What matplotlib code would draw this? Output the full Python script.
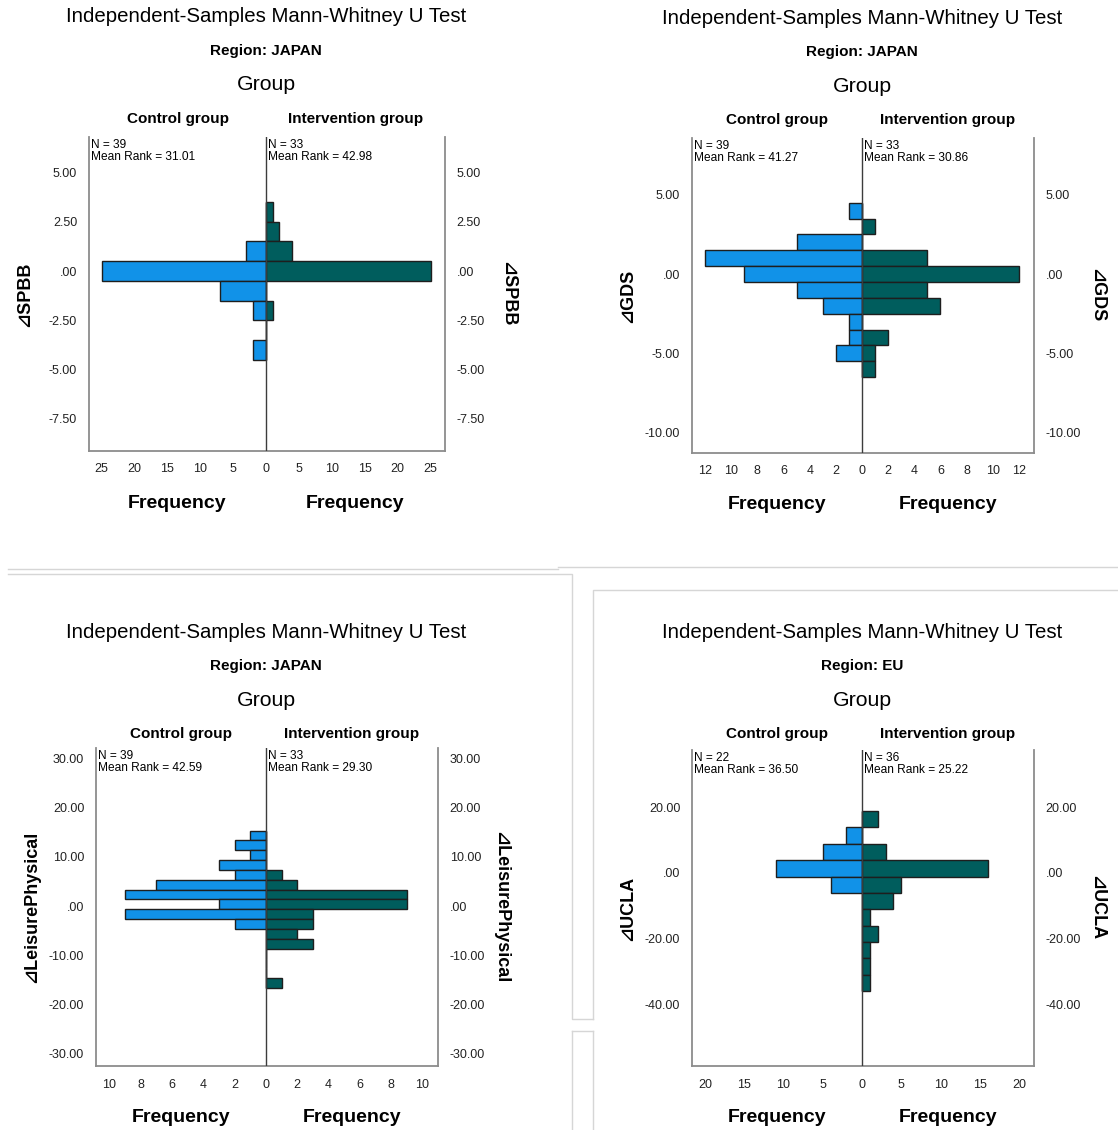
import matplotlib
matplotlib.use("Agg")
import matplotlib.pyplot as plt
from matplotlib.lines import Line2D
import numpy as np

plt.rcParams['font.family'] = ['Liberation Sans', 'DejaVu Sans', 'Noto Sans CJK JP']

# ---------------- data ----------------
title = "Independent-Samples Mann-Whitney U Test"
groups = ["Control group", "Intervention group"]

# Panel 1: ⊿SPBB, JAPAN
spbb_bins = [3, 2, 1, 0, -1, -2, -3, -4]
spbb_control = [0, 0, 3, 25, 7, 2, 0, 2]
spbb_interv = [1, 2, 4, 25, 0, 1, 0, 0]
spbb_n = [39, 33]
spbb_rank = [31.01, 42.98]
spbb_yticks = [5.0, 2.5, 0.0, -2.5, -5.0, -7.5]
spbb_xticks = [25, 20, 15, 10, 5, 0, 5, 10, 15, 20, 25]

# Panel 2: ⊿GDS, JAPAN
gds_bins = [4, 3, 2, 1, 0, -1, -2, -3, -4, -5, -6]
gds_control = [1, 0, 5, 12, 9, 5, 3, 1, 1, 2, 0]
gds_interv = [0, 1, 0, 5, 12, 5, 6, 0, 2, 1, 1]
gds_n = [39, 33]
gds_rank = [41.27, 30.86]
gds_yticks = [5.0, 0.0, -5.0, -10.0]
gds_xticks = [12, 10, 8, 6, 4, 2, 0, 2, 4, 6, 8, 10, 12]

# Panel 3: ⊿LeisurePhysical, JAPAN
lp_bins = [14.33, 12.33, 10.33, 8.33, 6.33, 4.33, 2.33, 0.33, -1.67, -3.67,
           -5.67, -7.67, -9.67, -11.67, -13.67, -15.67]
lp_control = [1, 2, 1, 3, 2, 7, 9, 3, 9, 2, 0, 0, 0, 0, 0, 0]
lp_interv = [0, 0, 0, 0, 1, 2, 9, 9, 3, 3, 2, 3, 0, 0, 0, 1]
lp_n = [39, 33]
lp_rank = [42.59, 29.30]
lp_yticks = [30.0, 20.0, 10.0, 0.0, -10.0, -20.0, -30.0]
lp_xticks = [10, 8, 6, 4, 2, 0, 2, 4, 6, 8, 10]

# Panel 4: ⊿UCLA, EU
ucla_bins = [16.4, 11.4, 6.4, 1.4, -3.6, -8.6, -13.6, -18.6, -23.6, -28.6, -33.6]
ucla_control = [0, 2, 5, 11, 4, 0, 0, 0, 0, 0, 0]
ucla_interv = [2, 0, 3, 16, 5, 4, 1, 2, 1, 1, 1]
ucla_n = [22, 36]
ucla_rank = [36.50, 25.22]
ucla_yticks = [20.0, 0.0, -20.0, -40.0]
ucla_xticks = [20, 15, 10, 5, 0, 5, 10, 15, 20]

# ---------------- layout / style ----------------
W, H = 1118, 1130
fig = plt.figure(figsize=(W / 100, H / 100), dpi=100)
fig.patch.set_facecolor("white")

BLUE = "#1192E8"
TEAL = "#005D5D"
EDGE = "#1e1e1e"
SPINE = "#8c8c8c"

def fx(x):
    return x / W

def fy(y):
    return 1 - y / H

def ftext(x, y, s, **kw):
    kw.setdefault("ha", "center")
    kw.setdefault("va", "center")
    fig.text(fx(x), fy(y), s, **kw)

def fmt(v):
    s = f"{v:.2f}"
    if s.startswith("0."):
        s = s[1:]
    if s.startswith("-0."):
        s = "-" + s[2:]
    return s

def panel(box, xlim, ylim, binw, bins, control, interv, n, rank, yticks, xticks,
          region, ylabel, yoff):
    L, T, R, B = box
    ax = fig.add_axes([fx(L), fy(B), fx(R) - fx(L), (B - T) / H])
    ax.barh(bins, [-c for c in control], height=binw, color=BLUE,
            edgecolor=EDGE, linewidth=1.0, zorder=2)
    ax.barh(bins, interv, height=binw, color=TEAL,
            edgecolor=EDGE, linewidth=1.0, zorder=2)
    ax.axvline(0, color="#3c3c3c", lw=1.0, zorder=3)
    ax.set_xlim(*xlim)
    ax.set_ylim(*ylim)
    ax.spines["top"].set_visible(False)
    for s in ("left", "right", "bottom"):
        ax.spines[s].set_color(SPINE)
        ax.spines[s].set_linewidth(1.3)
    ax.set_yticks(yticks)
    ax.set_yticklabels([fmt(v) for v in yticks])
    half = len(xticks) // 2
    xpos = [-v for v in xticks[:half]] + list(xticks[half:])
    ax.set_xticks(xpos)
    ax.set_xticklabels([str(v) for v in xticks])
    ax.tick_params(axis="y", which="both", left=False, right=False,
                   labelleft=True, labelright=True, labelsize=9,
                   pad=5, colors="#222222")
    ax.tick_params(axis="x", which="both", bottom=False, labelsize=9,
                   pad=5.5, colors="#222222")
    ax.set_facecolor("white")

    mid = ax.transData.transform((0, 0))[0] / fig.dpi * 100
    lc = (L + mid) / 2
    rc = (mid + R) / 2
    ftext(mid, yoff + 17, title, fontsize=14.7)
    ftext(mid, yoff + 51, "Region: " + region, fontsize=11, fontweight="bold")
    ftext(mid, yoff + 85, "Group", fontsize=15.3)
    ftext(lc, yoff + 119, groups[0], fontsize=11, fontweight="bold")
    ftext(rc, yoff + 119, groups[1], fontsize=11, fontweight="bold")
    ftext(L + 2, T + 2, f"N = {n[0]}\nMean Rank = {rank[0]:.2f}",
          fontsize=8.6, ha="left", va="top", linespacing=1.0)
    ftext(mid + 2, T + 2, f"N = {n[1]}\nMean Rank = {rank[1]:.2f}",
          fontsize=8.6, ha="left", va="top", linespacing=1.0)
    ftext(lc, B + 52, "Frequency", fontsize=14, fontweight="bold")
    ftext(rc, B + 52, "Frequency", fontsize=14, fontweight="bold")
    ycen = (T + B) / 2
    ftext(L - 64, ycen, "⊿" + ylabel, fontsize=13, fontweight="bold", rotation=90)
    ftext(R + 63, ycen, "⊿" + ylabel, fontsize=13, fontweight="bold", rotation=270)
    return ax

panel((89, 137, 445, 451), (-26.9, 27.2), (-9.13, 6.8), 1.0,
      spbb_bins, spbb_control, spbb_interv, spbb_n, spbb_rank,
      spbb_yticks, spbb_xticks, "JAPAN", "SPBB", 0)
panel((692, 138, 1034, 453), (-13.0, 13.15), (-11.29, 8.58), 1.0,
      gds_bins, gds_control, gds_interv, gds_n, gds_rank,
      gds_yticks, gds_xticks, "JAPAN", "GDS", 1)
panel((96, 748, 438, 1066), (-10.86, 10.99), (-32.5, 32.1), 2.0,
      lp_bins, lp_control, lp_interv, lp_n, lp_rank,
      lp_yticks, lp_xticks, "JAPAN", "LeisurePhysical", 615)
panel((692, 750, 1034, 1066), (-21.66, 21.9), (-58.9, 37.5), 5.0,
      ucla_bins, ucla_control, ucla_interv, ucla_n, ucla_rank,
      ucla_yticks, ucla_xticks, "EU", "UCLA", 615)

# faint frame / separator lines
SEP = "#d6d6d6"
def fline(xs, ys):
    fig.add_artist(Line2D([fx(x) for x in xs], [fy(y) for y in ys],
                          color=SEP, lw=1.0))

fline([8, 558], [569, 569])
fline([558, 1118], [567, 567])
fline([8, 572, 572, 593], [574, 574, 1019, 1019])
fline([593, 593, 1118], [1019, 590, 590])
fline([572, 593], [1031, 1031])
fline([572, 572], [1031, 1130])
fline([593, 593], [1031, 1130])

fig.savefig("out.png", dpi=100, facecolor="white")
